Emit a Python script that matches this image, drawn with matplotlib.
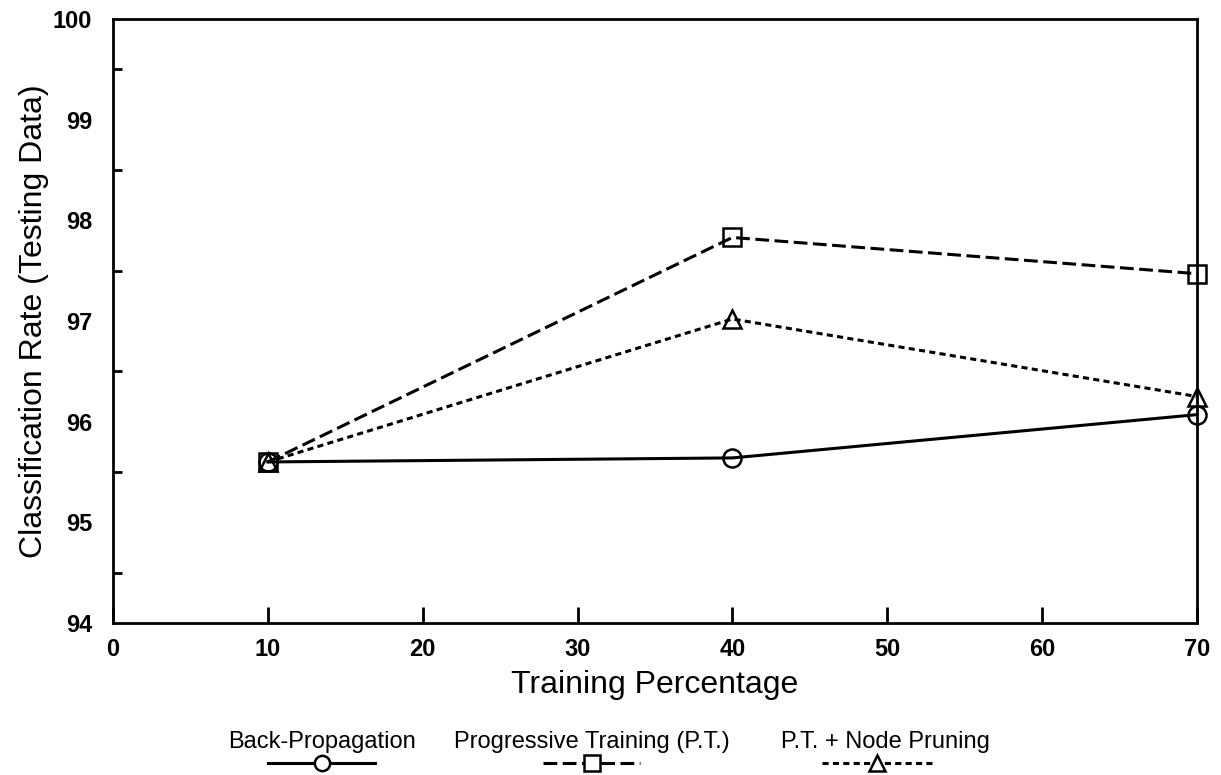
import numpy as np
import matplotlib
matplotlib.use('Agg')
import matplotlib.pyplot as plt
from matplotlib.lines import Line2D
from matplotlib.ticker import MultipleLocator

plt.rcParams['font.family'] = ['Liberation Sans', 'DejaVu Sans']

# values
train_pct = [10, 40, 70]
back_prop = [95.60, 95.64, 96.07]
prog_train = [95.60, 97.83, 97.47]
node_prune = [95.60, 97.02, 96.25]

series_names = ['Back-Propagation', 'Progressive Training (P.T.)', 'P.T. + Node Pruning']

x_ticks = [0, 10, 20, 30, 40, 50, 60, 70]
y_ticks = [94, 95, 96, 97, 98, 99, 100]

fig = plt.figure(figsize=(12.21, 7.75), dpi=100)
ax = fig.add_axes([0.0925, 0.1961, 0.8878, 0.7794])

lw = 2.2
ms = 13
dash_long = (4.5, 1.8)
dash_short = (2.0, 1.4)

ax.plot(train_pct, back_prop, color='black', lw=lw, marker='o', ms=ms,
        mfc='none', mec='black', mew=1.8, clip_on=False)
ax.plot(train_pct, prog_train, color='black', lw=lw, ls=(0, dash_long), marker='s',
        ms=ms, mfc='none', mec='black', mew=1.8, clip_on=False)
ax.plot(train_pct, node_prune, color='black', lw=lw, ls=(0, dash_short), marker='^',
        ms=ms, mfc='none', mec='black', mew=1.8, clip_on=False)

ax.set_xlim(0, 70)
ax.set_ylim(94, 100)
ax.set_xticks(x_ticks)
ax.set_yticks(y_ticks)
ax.yaxis.set_minor_locator(MultipleLocator(0.5))

for s in ax.spines.values():
    s.set_linewidth(2.0)

ax.tick_params(axis='x', which='major', direction='in', length=11.5, width=2.0,
               pad=11, labelsize=17)
ax.tick_params(axis='y', which='major', length=0, pad=15, labelsize=17)
ax.tick_params(axis='y', which='minor', direction='in', length=6.5, width=2.0)
for lab in ax.get_xticklabels() + ax.get_yticklabels():
    lab.set_fontweight('bold')

ax.set_xlabel('Training Percentage', fontsize=23, labelpad=6)
ax.set_ylabel('Classification Rate (Testing Data)', fontsize=23, labelpad=3)

# legend: text above a short sample of each line
W, H = 1221.0, 775.0
text_y = 1 - 742 / H
line_y = 1 - 763 / H
entries = [
    (series_names[0], 322, 268, 375, 'o', '-'),
    (series_names[1], 592, 543, 640, 's', (0, dash_long)),
    (series_names[2], 885, 822, 932, '^', (0, dash_short)),
]
for name, cx, x0, x1, mk, ls in entries:
    fig.text(cx / W, text_y, name, ha='center', va='center', fontsize=17)
    fig.add_artist(Line2D([x0 / W, x1 / W], [line_y, line_y], transform=fig.transFigure,
                          color='black', lw=lw, ls=ls))
    fig.add_artist(Line2D([(x0 + x1) / 2 / W], [line_y], transform=fig.transFigure,
                          marker=mk, ms=11, mfc='white', mec='black', mew=1.8, ls='none'))

fig.savefig('out.png', dpi=100)
